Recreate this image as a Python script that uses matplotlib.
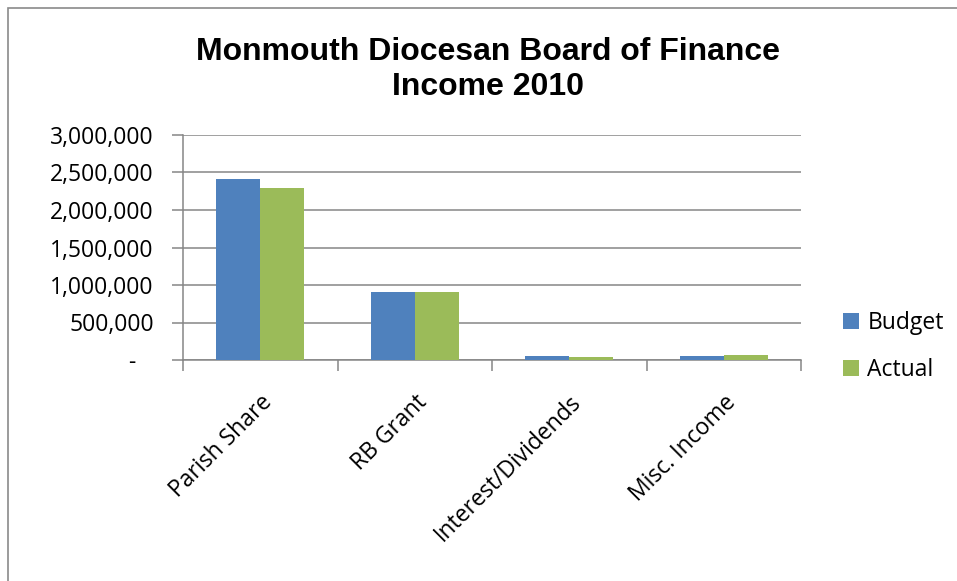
import matplotlib.pyplot as plt
import numpy as np
from matplotlib.patches import Rectangle
from matplotlib.ticker import FuncFormatter

categories = ['Parish Share', 'RB Grant', 'Interest/Dividends', 'Misc. Income']
budget = [2410000, 902000, 53000, 53000]
actual = [2290000, 905000, 36000, 62000]
yticks = [0, 500000, 1000000, 1500000, 2000000, 2500000, 3000000]

blue = '#4F81BD'
green = '#9BBB59'
grey = '#868686'
lab_font = 'Open Sans'
fs = 16.5

fig = plt.figure(figsize=(9.57, 5.81), dpi=100)
ax = fig.add_axes([183 / 957, 1 - 360 / 581, 618 / 957, 225 / 581])

# chart border (cut off at right and bottom like the reference)
fig.patches.append(Rectangle((8 / 957, -0.1), 1.2, 1.1 - 8 / 581,
                             transform=fig.transFigure, fill=False,
                             edgecolor='#8a8a8a', linewidth=1.2))

x = np.arange(len(categories))
w = 0.284
ax.bar(x - w / 2, budget, w, color=blue, label='Budget', zorder=3)
ax.bar(x + w / 2, actual, w, color=green, label='Actual', zorder=3)

ax.set_xlim(-0.5, len(categories) - 0.5)
ax.set_ylim(0, 3000000)
ax.set_yticks(yticks)
ax.yaxis.set_major_formatter(FuncFormatter(lambda v, p: '-   ' if v == 0 else f'{int(v):,}'))
ax.grid(axis='y', color=grey, linewidth=1.1, zorder=0)

# category ticks sit on the boundaries, labels at the centres
ax.set_xticks(np.arange(len(categories) + 1) - 0.5)
ax.set_xticklabels([])
ax.set_xticks(x, minor=True)
ax.set_xticklabels(categories, minor=True, rotation=45, ha='right',
                   rotation_mode='anchor', fontsize=fs, family=lab_font)
ax.tick_params(axis='x', which='minor', length=0, pad=22)
ax.tick_params(axis='x', which='major', length=8, color=grey, width=1.1)
ax.tick_params(axis='y', length=8, color=grey, width=1.1, pad=13)
for t in ax.get_yticklabels():
    t.set_fontsize(fs)
    t.set_family(lab_font)

for s in ['top', 'right']:
    ax.spines[s].set_visible(False)
for s in ['left', 'bottom']:
    ax.spines[s].set_color(grey)
    ax.spines[s].set_linewidth(1.1)

fig.text(488 / 957, 1 - 52 / 581, 'Monmouth Diocesan Board of Finance',
         ha='center', va='center', fontsize=23, fontweight='bold',
         family='Liberation Sans')
fig.text(488 / 957, 1 - 87 / 581, 'Income 2010',
         ha='center', va='center', fontsize=23, fontweight='bold',
         family='Liberation Sans')

ax.legend(loc='center left', bbox_to_anchor=(1.035, 0.06), frameon=False,
          prop={'family': lab_font, 'size': fs}, handlelength=0.7,
          handleheight=0.7, handletextpad=0.35, labelspacing=1.0)

fig.savefig('out.png', dpi=100)
